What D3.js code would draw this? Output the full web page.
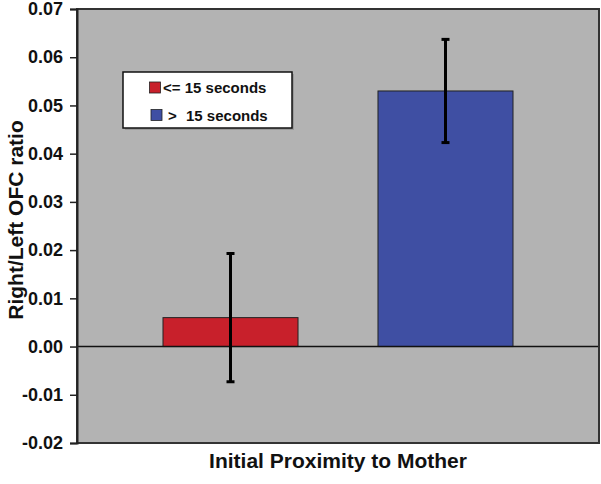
<!DOCTYPE html>
<html><head><meta charset="utf-8">
<script src="https://cdn.jsdelivr.net/npm/d3@7"></script>
<style>body{margin:0;background:#fff}svg{display:block;font-family:"Liberation Sans",Arial,sans-serif}</style>
</head><body><svg id="c" width="601" height="484"></svg>
<script>
const series = ["<= 15 seconds", "> 15 seconds"];
const values = [0.006, 0.053];
const errors = [0.0133, 0.0107];
const colors = ["#c8202b", "#3f4fa3"];
const yTicks = [-0.02, -0.01, 0, 0.01, 0.02, 0.03, 0.04, 0.05, 0.06, 0.07];
const xTitle = "Initial Proximity to Mother";
const yTitle = "Right/Left OFC ratio";

const svg = d3.select("#c");
const L = 77, R = 599, T = 9, B = 443;
const y = d3.scaleLinear().domain([-0.02, 0.07]).range([B, T]);
const x = d3.scaleBand().domain(series).range([L, R]).paddingInner(0.372).paddingOuter(0.4);

svg.append("rect").attr("x", L).attr("y", T).attr("width", R - L).attr("height", B - T)
  .attr("fill", "#b3b3b3");

// bars
svg.selectAll(".bar").data(series).enter().append("rect")
  .attr("x", d => x(d)).attr("width", x.bandwidth())
  .attr("y", (d, i) => Math.min(y(values[i]), y(0)))
  .attr("height", (d, i) => Math.abs(y(0) - y(values[i])))
  .attr("fill", (d, i) => colors[i]).attr("stroke", "#222").attr("stroke-width", 1);

// zero line
svg.append("line").attr("x1", L).attr("x2", R).attr("y1", y(0)).attr("y2", y(0))
  .attr("stroke", "#111").attr("stroke-width", 1.5);

// error bars
series.forEach((s, i) => {
  const cx = x(s) + x.bandwidth() / 2;
  const g = svg.append("g").attr("stroke", "#000").attr("stroke-width", 3);
  g.append("line").attr("x1", cx).attr("x2", cx).attr("y1", y(values[i] + errors[i])).attr("y2", y(values[i] - errors[i]));
  g.append("line").attr("x1", cx - 4).attr("x2", cx + 4).attr("y1", y(values[i] + errors[i])).attr("y2", y(values[i] + errors[i]));
  g.append("line").attr("x1", cx - 4).attr("x2", cx + 4).attr("y1", y(values[i] - errors[i])).attr("y2", y(values[i] - errors[i]));
});

// border
svg.append("rect").attr("x", L).attr("y", T).attr("width", R - L).attr("height", B - T)
  .attr("fill", "none").attr("stroke", "#333").attr("stroke-width", 2);

// y axis
const fmt = d3.format(".2f");
const yAxis = svg.append("g").attr("transform", `translate(${L},0)`)
  .call(d3.axisLeft(y).tickValues(yTicks).tickFormat(d => fmt(d).replace("\u2212", "-")).tickSize(7).tickPadding(7));
yAxis.select(".domain").attr("stroke", "#222").attr("stroke-width", 2);
yAxis.selectAll(".tick line").attr("stroke", "#222").attr("stroke-width", 1.5);
yAxis.selectAll(".tick text").attr("font-size", 18).attr("font-weight", "bold").attr("fill", "#111")
  .attr("font-family", "'Liberation Sans',Arial,sans-serif");

// titles
svg.append("text").attr("x", 338).attr("y", 468).attr("text-anchor", "middle")
  .attr("font-size", 21).attr("font-weight", "bold").attr("fill", "#111").text(xTitle);
svg.append("text").attr("transform", "translate(23,220) rotate(-90)").attr("text-anchor", "middle")
  .attr("font-size", 21).attr("font-weight", "bold").attr("fill", "#111").text(yTitle);

// legend
const lg = svg.append("g");
lg.append("rect").attr("x", 125).attr("y", 74).attr("width", 169).attr("height", 56).attr("fill", "#999");
lg.append("rect").attr("x", 123).attr("y", 72).attr("width", 169).attr("height", 56)
  .attr("fill", "#fff").attr("stroke", "#111").attr("stroke-width", 1.5);
const rowsY = [87.5, 115];
const sqX = [149.5, 151];
series.forEach((s, i) => {
  lg.append("rect").attr("x", sqX[i]).attr("y", rowsY[i] - 5.5).attr("width", 11).attr("height", 11)
    .attr("fill", colors[i]).attr("stroke", "#222").attr("stroke-width", 0.8);
  const t = lg.append("text").attr("y", rowsY[i] + 5.5).attr("font-size", 15).attr("font-weight", "bold").attr("fill", "#111");
  if (i === 0) {
    t.attr("x", 163).text(s);
  } else {
    const parts = s.split(" ");
    t.append("tspan").attr("x", 168).text(parts[0]);
    t.append("tspan").attr("x", 186).text(parts.slice(1).join(" "));
  }
});
</script></body></html>
